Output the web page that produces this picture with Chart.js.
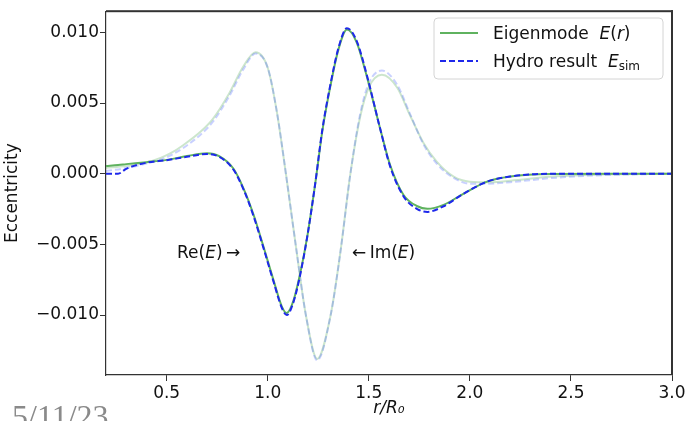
<!DOCTYPE html>
<html>
<head>
<meta charset="utf-8">
<script src="https://cdn.jsdelivr.net/npm/chart.js@4"></script>
<style>
  html, body { margin: 0; padding: 0; background: #fff; }
  #wrap { width: 690px; height: 421px; position: relative; }
</style>
</head>
<body>
<div id="wrap"><canvas id="eccChart"></canvas></div>
<script>
// r / R0 sample positions and eccentricity profiles
const reR = [0.20, 0.26, 0.30, 0.40, 0.50, 0.60, 0.70, 0.76, 0.83, 0.88, 0.93, 0.98, 1.03, 1.07, 1.094, 1.127, 1.16, 1.195, 1.235, 1.27, 1.31, 1.35, 1.392, 1.44, 1.49, 1.556, 1.606, 1.672, 1.74, 1.79, 1.87, 1.97, 2.085, 2.20, 2.40, 2.70, 3.00];
const reEigen = [0.00055, 0.00062, 0.00068, 0.00082, 0.00098, 0.00125, 0.00145, 0.00125, 0.00037, -0.00103, -0.0029, -0.0052, -0.0076, -0.0094, -0.00986, -0.0090, -0.0071, -0.0045, -0.0007, 0.0030, 0.0062, 0.0088, 0.0102, 0.0093, 0.0069, 0.0032, 0.0006, -0.0015, -0.0023, -0.00248, -0.0022, -0.0014, -0.00056, -0.0002, -0.00002, 0.0, 0.0];
const reHydro = [0.0, 0.0, 0.00035, 0.00078, 0.00096, 0.0012, 0.0014, 0.0012, 0.0003, -0.0011, -0.0030, -0.0053, -0.0077, -0.0095, -0.0100, -0.0091, -0.0072, -0.0045, -0.0007, 0.0031, 0.0063, 0.0089, 0.0103, 0.0094, 0.0070, 0.0032, 0.0005, -0.0016, -0.0025, -0.0027, -0.0023, -0.0014, -0.00056, -0.0002, 0.0, 0.0, 0.0];

const imR = [0.20, 0.30, 0.40, 0.47, 0.52, 0.58, 0.67, 0.73, 0.81, 0.88, 0.94, 1.00, 1.045, 1.09, 1.14, 1.19, 1.245, 1.31, 1.36, 1.408, 1.457, 1.50, 1.565, 1.64, 1.705, 1.77, 1.837, 1.92, 2.00, 2.10, 2.20, 2.41, 2.66, 3.00];
const imEigen = [0.00042, 0.00055, 0.00080, 0.00112, 0.00145, 0.0020, 0.0030, 0.0039, 0.0057, 0.0076, 0.0086, 0.0075, 0.0044, 0.0, -0.0052, -0.0101, -0.0131, -0.0101, -0.0055, -0.0001, 0.0040, 0.0061, 0.0070, 0.0061, 0.0041, 0.0022, 0.00084, -0.0002, -0.00056, -0.0006, -0.0005, -0.0002, -0.00005, 0.0];
const imHydro = [0.0002, 0.0004, 0.00072, 0.0010, 0.0013, 0.0018, 0.0028, 0.0037, 0.0055, 0.0074, 0.0085, 0.0075, 0.0044, 0.0, -0.0052, -0.0101, -0.0132, -0.0101, -0.0055, -0.0001, 0.0042, 0.0064, 0.0073, 0.0063, 0.0042, 0.0021, 0.0007, -0.0003, -0.0007, -0.0007, -0.0006, -0.0003, -0.0001, 0.0];

const xTicks = [0.5, 1.0, 1.5, 2.0, 2.5, 3.0];
const yTicks = [-0.010, -0.005, 0.000, 0.005, 0.010];

const FONT = "'DejaVu Sans', sans-serif";
const AXIS = '#333';
const GREEN = 'rgb(95, 178, 95)';
const BLUE = 'rgb(30, 40, 235)';
const GREEN_FADED = 'rgba(0, 128, 0, 0.2)';
const BLUE_FADED = 'rgba(40, 70, 255, 0.25)';

function pts(xs, ys) {
  return xs.map((x, i) => ({ x: x, y: ys[i] }));
}

// draws a run of text pieces with mixed upright / italic / subscript styles
function drawRich(ctx, x, y, parts) {
  let cx = x;
  parts.forEach(p => {
    const size = p.size || 17;
    ctx.font = (p.italic ? 'italic ' : '') + size + 'px ' + FONT;
    ctx.fillText(p.t, cx, y + (p.dy || 0));
    cx += ctx.measureText(p.t).width;
  });
}

const extras = {
  id: 'extras',
  afterDraw(chart) {
    const ctx = chart.ctx;
    const a = chart.chartArea;
    ctx.save();

    // top and right spines
    ctx.fillStyle = AXIS;
    ctx.fillRect(a.left, a.top - 1, a.right - a.left + 1, 2);
    ctx.fillRect(a.right - 1, a.top - 1, 2, a.bottom - a.top + 1);

    ctx.fillStyle = '#111';
    ctx.textBaseline = 'alphabetic';

    // curve labels
    drawRich(ctx, 177, 258, [{ t: 'Re(' }, { t: 'E', italic: true }, { t: ')\u2009\u2192' }]);
    drawRich(ctx, 352, 258, [{ t: '\u2190\u2009Im(' }, { t: 'E', italic: true }, { t: ')' }]);

    // legend box
    const bx = 434, by = 18, bw = 229, bh = 61, r = 4;
    ctx.beginPath();
    ctx.moveTo(bx + r, by);
    ctx.arcTo(bx + bw, by, bx + bw, by + bh, r);
    ctx.arcTo(bx + bw, by + bh, bx, by + bh, r);
    ctx.arcTo(bx, by + bh, bx, by, r);
    ctx.arcTo(bx, by, bx + bw, by, r);
    ctx.closePath();
    ctx.fillStyle = 'rgba(255,255,255,0.85)';
    ctx.fill();
    ctx.strokeStyle = '#d4d4d4';
    ctx.lineWidth = 1;
    ctx.stroke();

    ctx.lineWidth = 2;
    ctx.strokeStyle = GREEN;
    ctx.beginPath(); ctx.moveTo(440, 33); ctx.lineTo(478, 33); ctx.stroke();
    ctx.strokeStyle = BLUE;
    ctx.setLineDash([6, 3]);
    ctx.beginPath(); ctx.moveTo(440, 61); ctx.lineTo(478, 61); ctx.stroke();
    ctx.setLineDash([]);

    ctx.fillStyle = '#111';
    drawRich(ctx, 493, 39, [{ t: 'Eigenmode  ' }, { t: 'E', italic: true }, { t: '(' }, { t: 'r', italic: true }, { t: ')' }]);
    drawRich(ctx, 493, 67, [{ t: 'Hydro result  ' }, { t: 'E', italic: true }, { t: 'sim', size: 12, dy: 3 }]);

    // slide date in the corner
    ctx.fillStyle = '#8a8a8a';
    ctx.font = "32px 'Liberation Serif', serif";
    ctx.fillText('5/11/23', 12, 427);
    ctx.restore();
  }
};

const lineStyle = { pointRadius: 0, borderWidth: 2, cubicInterpolationMode: 'monotone', fill: false };

// `order`: lower numbers are painted on top
new Chart(document.getElementById('eccChart').getContext('2d'), {
  type: 'line',
  data: {
    datasets: [
      Object.assign({ label: 'Eigenmode E(r)', data: pts(reR, reEigen), borderColor: GREEN, order: 2 }, lineStyle),
      Object.assign({ label: 'Hydro result E_sim', data: pts(reR, reHydro), borderColor: BLUE, borderDash: [6, 3], order: 1 }, lineStyle),
      Object.assign({ label: 'Im eigen', data: pts(imR, imEigen), borderColor: GREEN_FADED, order: 4 }, lineStyle),
      Object.assign({ label: 'Im hydro', data: pts(imR, imHydro), borderColor: BLUE_FADED, borderDash: [6, 3], order: 3 }, lineStyle)
    ]
  },
  options: {
    responsive: true,
    maintainAspectRatio: false,
    animation: false,
    layout: { padding: { top: 8, right: 18, left: 0, bottom: 0 } },
    plugins: { legend: { display: false }, tooltip: { enabled: false } },
    scales: {
      x: {
        type: 'linear',
        min: 0.2,
        max: 3.0,
        afterBuildTicks: s => { s.ticks = xTicks.map(v => ({ value: v })); },
        afterFit: s => { s.height = 46; },
        ticks: { callback: v => v.toFixed(1), font: { family: FONT, size: 17 }, color: '#111', padding: 2, maxRotation: 0, autoSkip: false },
        grid: { drawOnChartArea: false, tickLength: 6, color: AXIS, tickColor: AXIS },
        border: { display: true, color: AXIS, width: 1.2 },
        title: { display: true, text: 'r/R\u2080', font: { family: FONT, size: 17, style: 'italic' }, color: '#111', padding: { top: 0, bottom: 2 } }
      },
      y: {
        min: -0.01424,
        max: 0.0115,
        afterBuildTicks: s => { s.ticks = yTicks.map(v => ({ value: v })); },
        afterFit: s => { s.width = 106; },
        ticks: { callback: v => (v < 0 ? '\u2212' : '') + Math.abs(v).toFixed(3), font: { family: FONT, size: 17 }, color: '#111', padding: 1, autoSkip: false },
        grid: { drawOnChartArea: false, tickLength: 6, color: AXIS, tickColor: AXIS },
        border: { display: true, color: AXIS, width: 1.2 },
        title: { display: true, text: 'Eccentricity', font: { family: FONT, size: 17 }, color: '#111', padding: { top: 2, bottom: 0 } }
      }
    }
  },
  plugins: [extras]
});
</script>
</body>
</html>
